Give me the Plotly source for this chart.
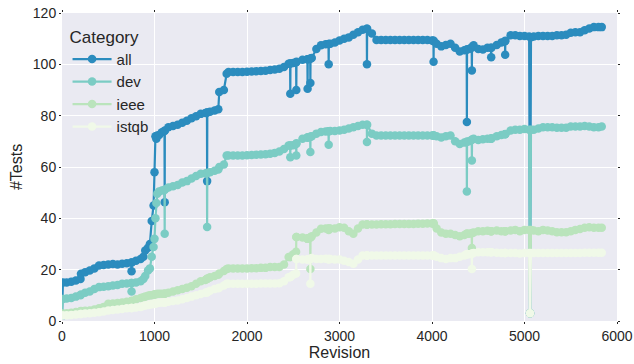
import plotly.graph_objects as go

revisions = [0, 10, 50, 100, 150, 200, 205, 250, 300, 350,
             400, 450, 500, 550, 600, 650, 700, 750, 752, 754,
             800, 850, 880, 900, 930, 950, 970, 990, 1000, 1010,
             1020, 1030, 1050, 1080, 1108, 1110, 1112, 1150, 1200, 1250,
             1300, 1350, 1400, 1450, 1500, 1550, 1567, 1569, 1571, 1600,
             1650, 1690, 1700, 1750, 1780, 1800, 1850, 1900, 1950, 2000,
             2050, 2100, 2150, 2200, 2250, 2300, 2350, 2400, 2450, 2466,
             2468, 2470, 2500, 2531, 2533, 2535, 2600, 2653, 2655, 2657,
             2683, 2685, 2687, 2700, 2750, 2800, 2850, 2881, 2883, 2885,
             2900, 2950, 3000, 3050, 3100, 3150, 3200, 3250, 3295, 3297,
             3299, 3350, 3400, 3450, 3500, 3550, 3600, 3650, 3700, 3750,
             3800, 3850, 3900, 3950, 4000, 4015, 4017, 4019, 4050, 4100,
             4150, 4200, 4250, 4300, 4350, 4375, 4377, 4379, 4400, 4429,
             4431, 4433, 4450, 4500, 4550, 4600, 4638, 4640, 4642, 4700,
             4750, 4789, 4791, 4793, 4850, 4900, 4950, 5000, 5050, 5060,
             5070, 5100, 5150, 5200, 5250, 5300, 5350, 5400, 5450, 5500,
             5550, 5600, 5650, 5700, 5750, 5800, 5835]

tests_all = [2, 15, 15, 15.3, 15.8, 16.4, 18.4, 19.0, 19.7, 20.5,
             21.6, 21.8, 22.0, 22.2, 22.0, 22.3, 22.5, 22.8, 19.4, 22.8,
             23.5, 24.2, 25.0, 27.5, 28.5, 30.0, 39.0, 45.0, 58.0, 72.0,
             71.0, 72.3, 72.5, 73.5, 74.0, 46.3, 74.2, 75.5, 76.0, 76.5,
             77.2, 78.0, 79.0, 79.8, 80.7, 81.0, 81.2, 54.5, 81.2, 81.5,
             82.0, 82.5, 89.2, 90.0, 96.3, 97.0, 97.0, 97.0, 97.0, 97.1,
             97.2, 97.3, 97.4, 97.5, 97.8, 98.0, 98.3, 99.0, 100.2, 100.3,
             88.5, 100.3, 100.5, 100.8, 90.0, 101.0, 101.8, 102.0, 90.5, 102.0,
             102.2, 92.7, 102.3, 102.5, 106.0, 107.4, 107.8, 107.9, 100.0, 107.9,
             108.0, 108.5, 109.3, 110.0, 110.5, 111.5, 112.5, 113.5, 113.9, 100.0,
             113.9, 112.0, 109.5, 109.5, 109.5, 109.5, 109.5, 109.5, 109.5, 109.5,
             109.5, 109.5, 109.5, 109.5, 109.3, 109.3, 101.0, 109.0, 108.0, 107.0,
             107.5, 108.0, 106.5, 105.0, 105.5, 105.8, 77.5, 105.8, 106.0, 106.5,
             97.6, 106.8, 107.4, 106.0, 105.8, 106.5, 106.5, 102.8, 106.5, 107.5,
             108.5, 109.0, 103.7, 109.2, 111.3, 111.3, 111.0, 111.0, 110.8, 3.0,
             110.6, 110.8, 111.0, 111.0, 111.0, 111.0, 111.3, 111.3, 111.5, 112.3,
             112.5, 112.5, 113.3, 114.0, 114.5, 114.5, 114.5]

tests_dev = [3, 8.6, 8.8, 9.0, 9.5, 10.0, 10.3, 11.0, 11.5, 12.5,
             13.2, 13.3, 13.5, 13.8, 14.0, 14.5, 14.6, 14.8, 11.5, 14.8,
             15.0, 15.5, 16.4, 17.5, 19.7, 20.5, 25.0, 28.8, 32.0, 40.0,
             46.0, 49.6, 50.5, 50.8, 51.0, 34.0, 51.2, 52.0, 52.5, 53.0,
             54.0, 54.5, 55.5, 56.5, 57.4, 57.5, 57.7, 36.6, 57.7, 58.0,
             58.5, 59.0, 60.0, 61.0, 64.5, 64.5, 64.5, 64.5, 64.5, 64.6,
             64.7, 64.8, 64.9, 65.0, 65.2, 65.5, 66.0, 67.0, 68.4, 68.4,
             63.8, 68.4, 68.5, 69.0, 64.5, 69.3, 71.0, 71.5, 71.5, 71.5,
             71.8, 65.8, 71.8, 72.0, 73.0, 73.6, 73.8, 73.9, 68.7, 73.9,
             74.0, 74.0, 74.2, 74.5, 75.0, 75.5, 76.0, 76.5, 76.5, 69.7,
             76.5, 73.0, 72.3, 72.3, 72.3, 72.3, 72.3, 72.3, 72.3, 72.3,
             72.3, 72.3, 72.3, 72.3, 72.3, 72.3, 72.3, 72.3, 72.0, 71.5,
             72.0, 72.3, 70.0, 69.0, 69.5, 69.8, 50.5, 69.8, 70.0, 70.5,
             62.5, 70.7, 71.0, 70.5, 70.8, 71.0, 71.0, 71.0, 71.2, 72.0,
             72.5, 72.8, 72.8, 72.9, 74.2, 74.5, 74.5, 74.8, 74.5, 3.0,
             74.5, 74.5, 75.0, 75.5, 75.5, 75.5, 75.3, 75.3, 75.3, 75.8,
             75.8, 75.8, 76.0, 75.8, 75.5, 75.5, 75.8]

tests_ieee = [2.8, 2.8, 3.0, 3.2, 3.5, 3.8, 3.9, 4.0, 4.1, 4.5,
              5.0, 5.5, 6.7, 6.8, 7.0, 7.2, 7.5, 7.8, 7.8, 7.8,
              8.5, 9.0, 9.3, 9.5, 9.8, 10.0, 10.0, 10.2, 10.3, 10.4,
              10.5, 10.5, 10.6, 10.6, 10.6, 10.6, 10.6, 11.0, 11.5, 12.0,
              12.5, 13.0, 13.5, 14.5, 15.5, 16.0, 16.4, 16.5, 16.5, 17.0,
              17.5, 18.0, 18.5, 19.5, 20.3, 20.5, 20.5, 20.5, 20.5, 20.5,
              20.6, 20.6, 20.7, 20.7, 21.0, 21.0, 21.0, 22.0, 24.9, 24.9,
              24.9, 25.0, 26.0, 27.0, 32.7, 32.7, 32.5, 32.2, 32.0, 32.0,
              32.5, 20.3, 32.5, 33.0, 34.5, 35.9, 36.0, 36.0, 35.5, 36.0,
              36.0, 36.0, 36.5, 36.3, 35.0, 34.0, 36.0, 37.6, 37.6, 37.6,
              37.6, 37.6, 37.6, 37.7, 37.7, 37.7, 37.8, 37.8, 37.8, 37.8,
              37.8, 37.9, 37.9, 38.0, 38.0, 38.0, 38.0, 38.0, 36.0, 34.5,
              34.0, 34.0, 33.5, 33.0, 33.5, 34.0, 34.0, 34.0, 34.0, 34.2,
              28.4, 34.3, 34.5, 35.0, 35.0, 35.2, 35.0, 35.0, 35.0, 35.3,
              35.0, 35.0, 35.0, 35.0, 35.3, 35.5, 35.0, 35.5, 35.5, 3.0,
              35.5, 35.3, 35.0, 35.5, 35.3, 35.0, 34.6, 34.6, 34.6, 35.0,
              35.5, 35.8, 36.3, 36.5, 36.3, 36.3, 36.3]

tests_istqb = [2.1, 2.1, 2.2, 2.3, 2.5, 2.7, 2.7, 2.9, 3.0, 3.2,
               3.4, 3.7, 4.1, 4.3, 4.5, 4.7, 5.0, 5.1, 5.1, 5.1,
               5.3, 5.5, 5.8, 6.0, 6.2, 6.4, 6.5, 6.6, 6.7, 6.8,
               6.9, 7.0, 7.1, 7.2, 7.2, 7.2, 7.2, 7.5, 7.8, 8.0,
               8.5, 9.0, 9.5, 10.0, 10.5, 11.0, 11.2, 11.2, 11.2, 11.8,
               12.5, 12.8, 13.0, 13.8, 14.5, 14.5, 14.5, 14.5, 14.5, 14.5,
               14.5, 14.5, 14.6, 14.6, 14.6, 14.6, 14.7, 15.5, 17.0, 17.1,
               17.1, 17.2, 18.0, 18.5, 24.2, 24.2, 24.0, 24.0, 24.0, 24.0,
               24.2, 14.5, 24.3, 24.5, 24.2, 24.2, 24.3, 24.2, 24.0, 24.2,
               24.2, 24.0, 24.0, 23.5, 23.0, 22.3, 24.0, 25.5, 25.5, 25.5,
               25.5, 25.5, 25.5, 25.5, 25.5, 25.5, 25.5, 25.5, 25.5, 25.5,
               25.5, 25.5, 25.5, 25.5, 25.5, 25.5, 25.5, 25.5, 25.0, 24.5,
               24.2, 24.5, 24.5, 25.0, 25.5, 26.0, 26.0, 26.0, 26.0, 26.2,
               20.3, 26.3, 26.5, 26.8, 26.8, 26.8, 26.8, 26.8, 26.8, 26.6,
               26.5, 26.5, 26.5, 26.5, 26.5, 26.5, 26.3, 26.5, 26.5, 3.0,
               26.5, 26.5, 26.5, 26.5, 26.5, 26.5, 26.5, 26.5, 26.5, 26.5,
               26.5, 26.5, 26.6, 26.6, 26.6, 26.6, 26.6]

categories = ["all", "dev", "ieee", "istqb"]
series = [tests_all, tests_dev, tests_ieee, tests_istqb]
colors = ["#2b8cbe", "#7bccc4", "#bae4bc", "#f0f9e8"]

for s in series:
    assert len(s) == len(revisions), (len(s), len(revisions))

fig = go.Figure()
for name, vals, col in zip(categories, series, colors):
    fig.add_trace(go.Scatter(
        x=revisions, y=vals, name=name, mode="lines+markers",
        line=dict(color=col, width=2.2),
        marker=dict(color=col, size=8.5),
    ))

font_family = "Liberation Sans, Arial, sans-serif"
fig.update_layout(
    width=634, height=364,
    margin=dict(l=62, r=17, t=13, b=43),
    paper_bgcolor="white",
    plot_bgcolor="#EAEAF2",
    font=dict(family=font_family, color="#262626", size=14),
    showlegend=True,
    hovermode=False,
    legend=dict(
        x=0.01, y=0.975, xanchor="left", yanchor="top",
        bgcolor="rgba(0,0,0,0)",
        title=dict(text="Category", font=dict(size=17, color="#262626")),
        font=dict(size=15, color="#262626"),
        itemwidth=39,
        tracegroupgap=0,
    ),
    xaxis=dict(
        range=[0, 6000], tickvals=[0, 1000, 2000, 3000, 4000, 5000, 6000],
        showgrid=True, gridcolor="white", gridwidth=1.2, zeroline=False,
        showline=False, ticks="outside", ticklen=2, tickcolor="#262626",
        mirror="ticks", automargin=False,
        title=dict(text="Revision", font=dict(size=16), standoff=2),
        tickfont=dict(size=14),
    ),
    yaxis=dict(
        range=[0, 120], tickvals=[0, 20, 40, 60, 80, 100, 120],
        showgrid=True, gridcolor="white", gridwidth=1.2, zeroline=False,
        showline=False, ticks="outside", ticklen=2, tickcolor="#262626",
        mirror="ticks", automargin=False,
        title=dict(text="#Tests", font=dict(size=16), standoff=6),
        tickfont=dict(size=14),
    ),
)

fig.write_html(
    "out.html",
    config={"displayModeBar": False},
    post_script="document.body.style.margin='0';document.body.style.padding='0';",
)
